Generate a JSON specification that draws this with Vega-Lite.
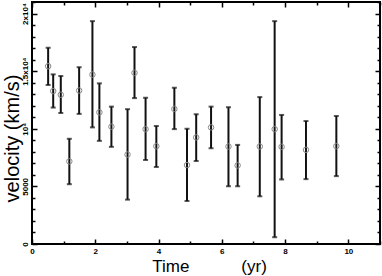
{
  "$schema": "https://vega.github.io/schema/vega-lite/v6.json",
  "width": 348,
  "height": 242,
  "autosize": "none",
  "padding": {"left": 32, "top": 2, "right": 2, "bottom": 32},
  "background": "white",
  "config": {
    "view": {"stroke": "black", "strokeWidth": 2},
    "font": "Liberation Sans"
  },
  "data": {
    "values": [
      {"t": 0.51, "v": 15430, "lo": 13800, "hi": 17030},
      {"t": 0.67, "v": 13270, "lo": 11840, "hi": 14720},
      {"t": 0.91, "v": 12950, "lo": 11370, "hi": 14580},
      {"t": 1.18, "v": 7170, "lo": 5190, "hi": 9130},
      {"t": 1.49, "v": 13320, "lo": 11290, "hi": 15340},
      {"t": 1.91, "v": 14700, "lo": 10120, "hi": 19340},
      {"t": 2.13, "v": 11430, "lo": 8950, "hi": 13940},
      {"t": 2.51, "v": 10180, "lo": 8430, "hi": 11920},
      {"t": 3.02, "v": 7760, "lo": 3850, "hi": 11700},
      {"t": 3.24, "v": 14850, "lo": 12660, "hi": 17090},
      {"t": 3.59, "v": 9970, "lo": 7290, "hi": 12690},
      {"t": 3.93, "v": 8490, "lo": 6680, "hi": 10240},
      {"t": 4.5, "v": 11720, "lo": 9970, "hi": 13560},
      {"t": 4.9, "v": 6850, "lo": 3730, "hi": 10000},
      {"t": 5.19, "v": 9250, "lo": 7200, "hi": 11260},
      {"t": 5.66, "v": 10120, "lo": 8310, "hi": 11920},
      {"t": 6.21, "v": 8460, "lo": 5010, "hi": 11870},
      {"t": 6.5, "v": 6820, "lo": 5010, "hi": 8600},
      {"t": 7.2, "v": 8460, "lo": 4140, "hi": 12750},
      {"t": 7.67, "v": 9970, "lo": 590, "hi": 19340},
      {"t": 7.89, "v": 8430, "lo": 5600, "hi": 11200},
      {"t": 8.66, "v": 8170, "lo": 5630, "hi": 10670},
      {"t": 9.62, "v": 8490, "lo": 5890, "hi": 11110}
    ]
  },
  "layer": [
    {
      "mark": {"type": "rule", "color": "#111", "strokeWidth": 2},
      "encoding": {
        "x": {
          "field": "t", "type": "quantitative",
          "scale": {"domain": [0, 11], "nice": false, "zero": false},
          "axis": {
            "orient": "bottom",
            "values": [0,2,4,6,8,10],
            "domain": false, "grid": false, "ticks": false,
            "labelFont": "Liberation Sans", "labelFontSize": 8, "labelFontWeight": "bold",
            "labelColor": "black", "labelPadding": 3, "labelFlush": false,
            "title": "Time\u00a0\u00a0\u00a0\u00a0\u00a0\u00a0\u00a0\u00a0\u00a0\u00a0\u00a0(yr)",
            "titleFont": "Liberation Sans", "titleFontSize": 17, "titleFontWeight": "normal",
            "titleColor": "black", "titleBaseline": "alphabetic", "titleY": 27, "titleX": 177
          }
        },
        "y": {
          "field": "lo", "type": "quantitative",
          "scale": {"domain": [0, 21000], "nice": false, "zero": false},
          "axis": {
            "orient": "left",
            "values": [0,5000,10000,15000,20000],
            "domain": false, "grid": false, "ticks": false,
            "labelExpr": "datum.value == 0 ? '0' : datum.value == 5000 ? '5000' : datum.value == 10000 ? '10⁴' : datum.value == 15000 ? '1.5x10⁴' : '2x10⁴'",
            "labelAngle": 270, "labelAlign": "center", "labelBaseline": "bottom",
            "labelFont": "Liberation Sans", "labelFontSize": 8, "labelFontWeight": "bold",
            "labelColor": "black", "labelPadding": 3, "labelFlush": false,
            "title": "velocity (km/s)",
            "titleFont": "Liberation Sans", "titleFontSize": 20, "titleFontWeight": "normal",
            "titleColor": "black", "titleAngle": 270, "titleBaseline": "alphabetic",
            "titleX": -14, "titleY": 136
          }
        },
        "y2": {"field": "hi"}
      }
    },
    {
      "mark": {"type": "tick", "orient": "horizontal", "color": "#111", "size": 5, "thickness": 2},
      "encoding": {
        "x": {
          "field": "t", "type": "quantitative",
          "axis": {
            "orient": "bottom",
            "values": [0,1,2,3,4,5,6,7,8,9,10,11],
            "domain": false, "grid": false, "labels": false, "title": null,
            "tickColor": "black", "tickWidth": 1.5,
            "tickSize": {"condition": {"test": "datum.value % 2 == 0", "value": -5}, "value": -3}
          }
        },
        "y": {
          "field": "lo", "type": "quantitative",
          "axis": {
            "orient": "left",
            "values": [0,1000,2000,3000,4000,5000,6000,7000,8000,9000,10000,11000,12000,13000,14000,15000,16000,17000,18000,19000,20000,21000],
            "domain": false, "grid": false, "labels": false, "title": null,
            "tickColor": "black", "tickWidth": 1.5,
            "tickSize": {"condition": {"test": "datum.value % 5000 == 0", "value": -5}, "value": -3}
          }
        }
      }
    },
    {
      "mark": {"type": "tick", "orient": "horizontal", "color": "#111", "size": 5, "thickness": 2},
      "encoding": {
        "x": {"field": "t", "type": "quantitative", "axis": null},
        "y": {"field": "hi", "type": "quantitative", "axis": null}
      }
    },
    {
      "mark": {"type": "point", "shape": "circle", "filled": false, "color": "#888", "size": 30, "strokeWidth": 1, "opacity": 1},
      "encoding": {
        "x": {
          "field": "t", "type": "quantitative",
          "axis": {
            "orient": "top",
            "values": [0,1,2,3,4,5,6,7,8,9,10,11],
            "domain": false, "grid": false, "labels": false, "title": null,
            "tickColor": "black", "tickWidth": 1.5,
            "tickSize": {"condition": {"test": "datum.value % 2 == 0", "value": -5}, "value": -3}
          }
        },
        "y": {
          "field": "v", "type": "quantitative",
          "axis": {
            "orient": "right",
            "values": [0,1000,2000,3000,4000,5000,6000,7000,8000,9000,10000,11000,12000,13000,14000,15000,16000,17000,18000,19000,20000,21000],
            "domain": false, "grid": false, "labels": false, "title": null,
            "tickColor": "black", "tickWidth": 1.5,
            "tickSize": {"condition": {"test": "datum.value % 5000 == 0", "value": -5}, "value": -3}
          }
        }
      }
    }
  ],
  "resolve": {"axis": {"x": "independent", "y": "independent"}}
}
